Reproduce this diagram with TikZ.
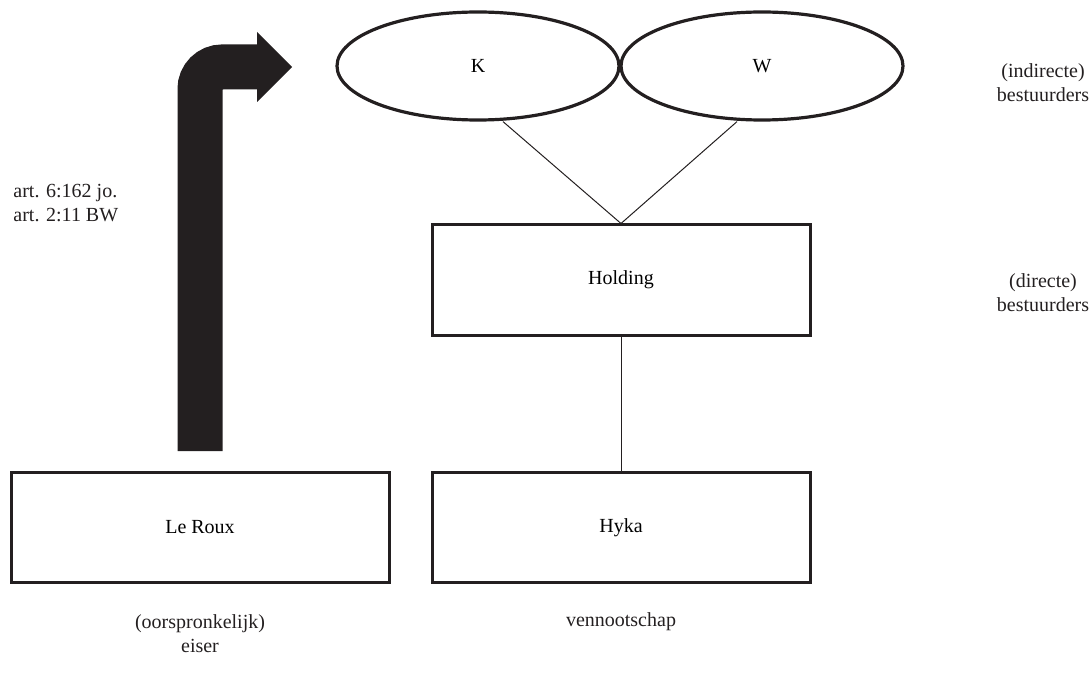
\documentclass[tikz,border=0pt]{standalone}
\usepackage{fontspec}
\setmainfont{Liberation Serif}
\usetikzlibrary{shapes.geometric,arrows.meta}

\begin{document}
\begin{tikzpicture}[x=0.5pt,y=-0.5pt]
        %kleuren
        \definecolor{ink}{HTML}{231F20}
        \tikzset{
            partij/.style={draw=ink,line width=1.5pt,rectangle,minimum width=189pt,minimum height=55pt,inner sep=0pt,font=\fontsize{10}{12}\selectfont},
            persoon/.style={draw=ink,line width=1.6pt,ellipse,minimum width=141pt,minimum height=54pt,inner sep=0pt,font=\fontsize{10}{12}\selectfont},
            rol/.style={text=ink,align=center,inner sep=0pt,font=\fontsize{10}{12}\selectfont},
            lijn/.style={draw=ink,line width=0.5pt},
            blokpijl/.style={draw=ink,line width=22.5pt,rounded corners=11pt,-{Triangle[width=35pt,length=17.5pt,line width=0pt]}}
        }
        \useasboundingbox (0,0) rectangle (1091,684);

        % Partijen
        \node[partij] (leroux) at (200,527.5) {Le Roux};
        \node[partij] (hyka) at (621,527.5) {Hyka};
        \node[partij] (holding) at (621,280) {Holding};

        % Bestuurders van de holding
        \node[persoon] (K) at (478,66) {K};
        \node[persoon] (W) at (762,66) {W};

        % Verbindingen
        \draw[lijn] ([xshift=12.5pt]K.south) -- (holding.north);
        \draw[lijn] ([xshift=-12.5pt]W.south) -- (holding.north);
        \draw[lijn] (holding.south) -- (hyka.north);

        % Pijl van eiser naar bestuurders
        \coordinate (pijlpunt) at (292,67);
        \draw[blokpijl] ([yshift=10pt]leroux.north) |- (pijlpunt);

        % Teksten
        \node[rol,anchor=west,align=left] (grondslag) at (13,203) {art. 6:162 jo.\\art. 2:11 BW};
        \node[rol] (indirect) at (1043,83) {(indirecte)\\bestuurders};
        \node[rol] (direct) at (1043,293) {(directe)\\bestuurders};
        \node[rol] (eiser) at (200,634) {(oorspronkelijk)\\eiser};
        \node[rol] (vennootschap) at (621,622) {vennootschap};
    \end{tikzpicture}
\end{document}
